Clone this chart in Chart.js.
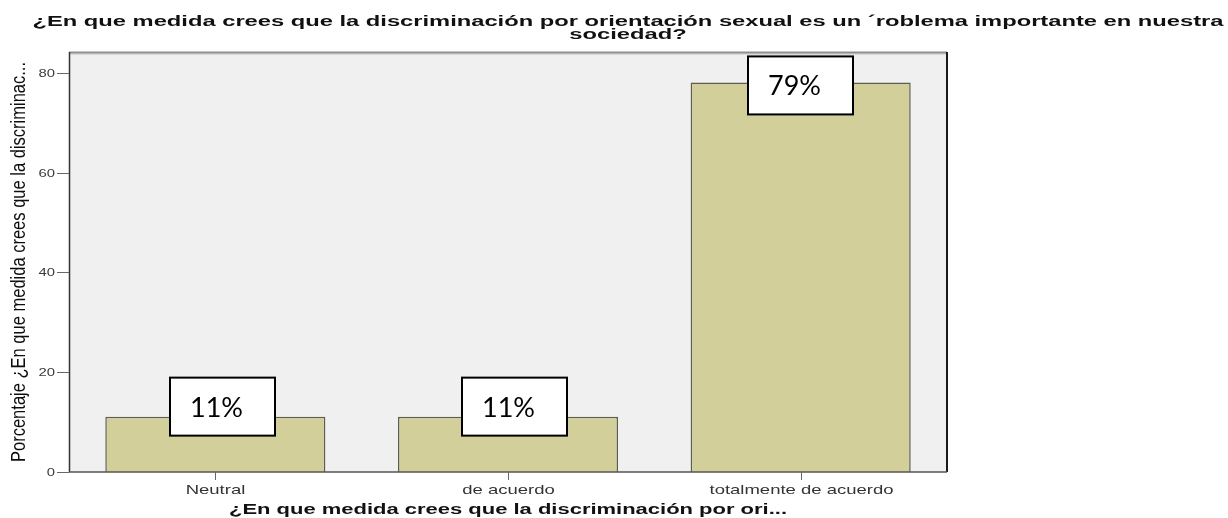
<!DOCTYPE html>
<html><head><meta charset="utf-8">
<script src="https://cdn.jsdelivr.net/npm/chart.js@4"></script>
<style>html,body{margin:0;padding:0;background:#fff;overflow:hidden}</style>
</head><body>
<canvas id="c" width="1228" height="518"></canvas>
<script>
// ---- data ----
const titleLines = ["¿En que medida crees que la discriminación por orientación sexual es un ´roblema importante en nuestra", "sociedad?"];
const categories = ["Neutral", "de acuerdo", "totalmente de acuerdo"];
const percentages = [11.1, 11.1, 78.1];
const boxLabels = ["11%", "11%", "79%"];
const yTicks = [0, 20, 40, 60, 80];
const yAxisTitle = "Porcentaje ¿En que medida crees que la discriminac...";
const xAxisTitle = "¿En que medida crees que la discriminación por ori...";
const yMax = 84.2;

// ---- annotation box placement (relative to bar top / bar centre) ----
const boxOffsets = [{dx: 7, dy: -39}, {dx: 6, dy: -39}, {dx: 0, dy: -26}];

function fitScale(ctx, text, font, width) {
  ctx.save(); ctx.font = font; const w = ctx.measureText(text).width; ctx.restore();
  return width / w;
}
function stretchText(ctx, text, x, y, font, color, sx, align) {
  ctx.save();
  ctx.font = font; ctx.fillStyle = color; ctx.textBaseline = 'middle'; ctx.textAlign = align || 'center';
  ctx.translate(x, y); ctx.scale(sx, 1); ctx.fillText(text, 0, 0);
  ctx.restore();
}

const spssPlugin = {
  id: 'spss',
  beforeDatasetsDraw(chart) {
    const {ctx, chartArea: a} = chart;
    ctx.save();
    ctx.fillStyle = '#f0f0f0';
    ctx.fillRect(a.left, a.top, a.right - a.left, a.bottom - a.top);
    ctx.restore();
  },
  afterDatasetsDraw(chart) {
    const {ctx, chartArea: a, scales} = chart;
    const x = scales.x, y = scales.y;
    ctx.save();
    // frame
    ctx.strokeStyle = '#c4c4c4'; ctx.lineWidth = 1;
    ctx.beginPath(); ctx.moveTo(a.left, a.top + 2); ctx.lineTo(a.right, a.top + 2); ctx.stroke();
    ctx.strokeStyle = '#909090'; ctx.lineWidth = 2;
    ctx.beginPath(); ctx.moveTo(a.left, a.top + 0.5); ctx.lineTo(a.right, a.top + 0.5); ctx.stroke();
    ctx.strokeStyle = '#1a1a1a'; ctx.lineWidth = 2;
    ctx.beginPath(); ctx.moveTo(a.right, a.top); ctx.lineTo(a.right, a.bottom); ctx.stroke();
    ctx.strokeStyle = '#333'; ctx.lineWidth = 1.5;
    ctx.beginPath(); ctx.moveTo(a.left + 0.5, a.top); ctx.lineTo(a.left + 0.5, a.bottom); ctx.stroke();
    ctx.strokeStyle = '#555'; ctx.lineWidth = 1.5;
    ctx.beginPath(); ctx.moveTo(a.left, a.bottom); ctx.lineTo(a.right, a.bottom); ctx.stroke();

    // y ticks
    ctx.strokeStyle = '#666'; ctx.lineWidth = 1;
    yTicks.forEach(v => {
      const py = Math.round(y.getPixelForValue(v)) + 0.5;
      ctx.beginPath(); ctx.moveTo(a.left - 12, py); ctx.lineTo(a.left, py); ctx.stroke();
      stretchText(ctx, String(v), a.left - 14, py, '11px "Liberation Sans"', '#3a3a3a', 1.35, 'right');
    });
    // x ticks
    const tickFont = '13px "Liberation Sans"';
    const tickSx = fitScale(ctx, categories[2], tickFont, 184);
    categories.forEach((c, i) => {
      const px = Math.round(x.getPixelForValue(i)) + 0.5;
      ctx.beginPath(); ctx.moveTo(px, a.bottom); ctx.lineTo(px, a.bottom + 8); ctx.stroke();
      stretchText(ctx, c, px, a.bottom + 18, tickFont, '#333', tickSx, 'center');
    });
    // x axis title
    const xtFont = 'bold 14px "Liberation Sans"';
    stretchText(ctx, xAxisTitle, (a.left + a.right) / 2, a.bottom + 38, xtFont, '#111',
      fitScale(ctx, xAxisTitle, xtFont, 558), 'center');
    // y axis title (rotated)
    const ytFont = '15px "Liberation Sans"';
    const ytLen = fitScale(ctx, yAxisTitle, ytFont, 400);
    ctx.save();
    ctx.translate(20, (a.top + a.bottom) / 2 + 0);
    ctx.scale(1.3, 1);
    ctx.rotate(-Math.PI / 2);
    ctx.scale(ytLen, 1);
    ctx.font = ytFont; ctx.fillStyle = '#0d0d0d'; ctx.textAlign = 'center'; ctx.textBaseline = 'middle';
    ctx.fillText(yAxisTitle, 0, 0);
    ctx.restore();
    // chart title
    const tFont = 'bold 14px "Liberation Sans"';
    const tSx = fitScale(ctx, titleLines[0], tFont, 1191);
    stretchText(ctx, titleLines[0], 628, 22, tFont, '#111', tSx, 'center');
    stretchText(ctx, titleLines[1], 628, 35, tFont, '#111', tSx, 'center');

    // annotation boxes
    const meta = chart.getDatasetMeta(0);
    meta.data.forEach((bar, i) => {
      const bw = 105, bh = 58;
      const cx = bar.x + boxOffsets[i].dx;
      const top = bar.y + boxOffsets[i].dy;
      const left = Math.round(cx - bw / 2);
      ctx.fillStyle = '#fff';
      ctx.fillRect(left, top, bw, bh);
      ctx.strokeStyle = '#000'; ctx.lineWidth = 2;
      ctx.strokeRect(left, top, bw, bh);
      ctx.font = '27px Lato'; ctx.fillStyle = '#000'; ctx.textAlign = 'left'; ctx.textBaseline = 'alphabetic';
      ctx.fillText(boxLabels[i], left + 20, top + 39);
    });
    ctx.restore();
  }
};

new Chart(document.getElementById('c'), {
  type: 'bar',
  data: {
    labels: categories,
    datasets: [{
      data: percentages,
      backgroundColor: '#d3cf9b',
      borderColor: '#5c5c50',
      borderWidth: 1.5,
      barPercentage: 0.752,
      categoryPercentage: 1
    }]
  },
  options: {
    responsive: false,
    devicePixelRatio: 1,
    animation: false,
    layout: {padding: {left: 69, right: 281, top: 52, bottom: 46}},
    plugins: {legend: {display: false}, tooltip: {enabled: false}, title: {display: false}},
    scales: {
      x: {display: false},
      y: {display: false, min: 0, max: yMax}
    }
  },
  plugins: [spssPlugin]
});
</script>
</body></html>
